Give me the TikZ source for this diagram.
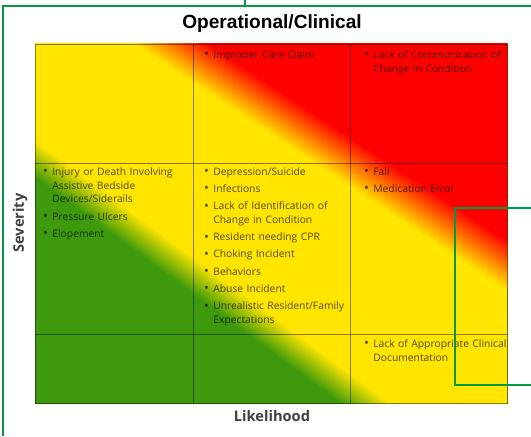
\documentclass[tikz,border=0pt]{standalone}
\usepackage{fontspec}
\setmainfont{Open Sans}
\newfontfamily\titlefont{Liberation Sans}

\definecolor{riskgreen}{RGB}{62,154,12}
\definecolor{riskyellow}{RGB}{255,229,0}
\definecolor{riskred}{RGB}{255,0,0}
\definecolor{framegreen}{RGB}{0,153,68}
\definecolor{labelgray}{RGB}{64,64,64}

\newcommand{\riskitem}[1]{\noindent\hangindent=7.8pt\hangafter=1%
  \makebox[7.8pt][l]{\raisebox{-0.5pt}{\fontsize{11pt}{11pt}\selectfont\textbullet}}#1\par}

\begin{document}
\begin{tikzpicture}[x=0.03cm, y=0.03cm,
  celltext/.style={anchor=north west, inner sep=0pt, text width=140pt, align=left,
    font=\fontsize{8.8pt}{11.9pt}\selectfont, text=black, text opacity=0.68,
    execute at begin node={\setlength{\parskip}{2.8pt}}},
  gridline/.style={draw=black, draw opacity=0.45, line width=0.6pt},
  frameline/.style={draw=framegreen, line width=1.6pt},
  axislabel/.style={font=\bfseries\fontsize{12.5pt}{14pt}\selectfont, text=labelgray}]
\useasboundingbox (0,0) rectangle (531,436);

% shaded risk field
\begin{scope}
  \clip (35,33) rectangle (507,392);
  % green to yellow
  \begin{scope}[shift={(35,276)}, rotate=-36.5]
    \fill[riskgreen] (-700,-700) rectangle (700,700);
    \foreach \i [evaluate=\i as \pct using int(\i*100/15)] in {0,...,15}
      \fill[riskyellow!\pct!riskgreen] (-700,{-15+2*\i}) rectangle (700,700);
  \end{scope}
  % yellow to red
  \begin{scope}[shift={(170,392)}, rotate=-33.5]
    \foreach \i [evaluate=\i as \pct using int(\i*100/21)] in {0,...,21}
      \fill[riskred!\pct!riskyellow] (-700,{-21+2*\i}) rectangle (700,700);
  \end{scope}
\end{scope}

% grid
\draw[gridline] (35,33) rectangle (507,392);
\draw[gridline] (193,33) -- (193,392);
\draw[gridline] (350,33) -- (350,392);
\draw[gridline] (35,273) -- (507,273);
\draw[gridline] (35,102) -- (507,102);

% cell entries
\node[celltext] (improper) at (204,386) {\riskitem{Improper Care Claim}};
\node[celltext] (communication) at (364,386)
  {\riskitem{Lack of Communication of\newline Change in Condition}};
\node[celltext] (assistive) at (43,269)
  {\riskitem{Injury or Death Involving\newline Assistive Bedside\newline Devices/Siderails}
   \riskitem{Pressure Ulcers}
   \riskitem{Elopement}};
\node[celltext] (depression) at (204,269)
  {\riskitem{Depression/Suicide}
   \riskitem{Infections}
   \riskitem{Lack of Identification of\newline Change in Condition}
   \riskitem{Resident needing CPR}
   \riskitem{Choking Incident}
   \riskitem{Behaviors}
   \riskitem{Abuse Incident}
   \riskitem{Unrealistic Resident/Family\newline Expectations}};
\node[celltext] (fall) at (364,269)
  {\riskitem{Fall}
   \riskitem{Medication Error}};
\node[celltext] (documentation) at (364,97)
  {\riskitem{Lack of Appropriate Clinical\newline Documentation}};

% labels
\node[font=\titlefont\bfseries\fontsize{16.3pt}{18pt}\selectfont] (title) at (272,412) {Operational/Clinical};
\node[axislabel] (likelihood) at (272,20) {Likelihood};
\node[axislabel, rotate=90] (severity) at (20,213) {Severity};

% green frame
\draw[frameline] (3,0) -- (3,430) -- (531,430);
\draw[frameline] (245,436) -- (245,430);
\draw[frameline] (531,228) -- (455,228) -- (455,51) -- (531,51);

\end{tikzpicture}
\end{document}
